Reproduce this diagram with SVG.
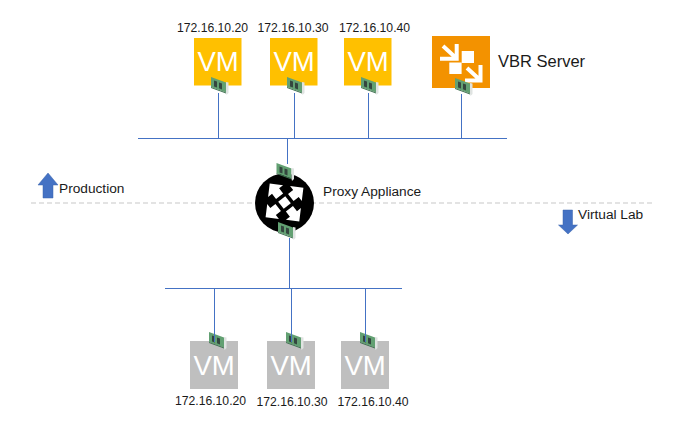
<svg xmlns="http://www.w3.org/2000/svg" width="675" height="427" viewBox="0 0 675 427">
<style>
.lbl{font-family:"Liberation Sans",Arial,sans-serif;fill:#1a1a1a}
.ip{font-size:12.2px;text-anchor:middle}
.cap{font-size:13.7px}
.vm{font-family:"Liberation Sans",Arial,sans-serif;font-size:27.500px;fill:#fff;text-anchor:middle}
.wire{stroke:#4472c4;stroke-width:1;fill:none}
.prod{fill:#ffc000}
.lab{fill:#bfbfbf}
.arrow{fill:#4472c4;stroke:#3a64ad;stroke-width:.5}
.vbr-mark{fill:none;stroke:#fff;stroke-width:4}
</style>
<defs>
<!-- network card: angled board with two chips and a metal bracket -->
<g id="nic">
<path d="M0 0L15 5.500V15.500L0 10Z" fill="#62a072"/>
<path d="M0 10L15 15.500V16.500L0 11Z" fill="#3f6f50"/>
<path d="M3 3.500L6 4.600V10.500L3 9.400ZM8 5.400L11 6.500V12.400L8 11.300Z" fill="#34463f"/>
<path d="M15 5L17.500 5.500V16L15.500 18L15 15.500Z" fill="#dfe3e1"/>
</g>
<!-- one arrow of the proxy mark, pointing up -->
<g id="glyph">
<path d="M0 -24L9.500 -14.500H4.500V-8H-4.500V-14.500H-9.500Z" fill="#fff"/>
</g>
</defs>

<!-- production / virtual lab boundary -->
<line x1="31" y1="203" x2="654" y2="203" stroke="#c8c8c8" stroke-width="1.200" stroke-dasharray="5 3"/>

<g id="vm-prod-1">
<rect class="prod" x="194" y="38" width="47.500" height="47.500"/>
<text class="vm" x="218" y="71">VM</text>
<use href="#nic" x="211" y="77"/>
<text class="lbl ip" x="212.500" y="32">172.16.10.20</text>
</g>
<g id="vm-prod-2">
<rect class="prod" x="270" y="38" width="47.500" height="47.500"/>
<text class="vm" x="294" y="71">VM</text>
<use href="#nic" x="287" y="77"/>
<text class="lbl ip" x="293" y="32">172.16.10.30</text>
</g>
<g id="vm-prod-3">
<rect class="prod" x="344" y="38" width="47.500" height="47.500"/>
<text class="vm" x="368" y="71">VM</text>
<use href="#nic" x="361" y="77"/>
<text class="lbl ip" x="374.500" y="32">172.16.10.40</text>
</g>

<g id="vbr-server">
<rect x="432" y="36" width="58" height="52" fill="#f39200"/>
<path class="vbr-mark" d="M456.700 44V58.700H440M443 46L455 57M480.500 65V80.500H465M467 68L479 79"/>
<rect x="461.700" y="51" width="12.300" height="12" fill="#fff"/>
<rect x="449.300" y="62.500" width="12.300" height="11.500" fill="#fff"/>
<use href="#nic" x="455" y="78"/>
<text class="lbl" x="498" y="67" font-size="16.500">VBR Server</text>
</g>

<g id="proxy-appliance">
<circle cx="284.500" cy="203" r="29.500" fill="#000"/>
<g transform="translate(284.500 202.500)">
<rect x="-4.500" y="-4.500" width="9" height="9" fill="#fff" transform="rotate(52)"/>
<use href="#glyph" transform="rotate(-38)"/>
<use href="#glyph" transform="rotate(52)"/>
<use href="#glyph" transform="rotate(142)"/>
<use href="#glyph" transform="rotate(232)"/>
</g>
<use href="#nic" x="276.500" y="163"/>
<use href="#nic" x="278" y="222"/>
<text class="lbl cap" x="323" y="196">Proxy Appliance</text>
</g>

<g id="production">
<path class="arrow" d="M48 173L58 185H53V198H43V185H38Z"/>
<text class="lbl cap" x="59" y="193">Production</text>
</g>
<g id="virtual-lab">
<path class="arrow" d="M563 210H572.500V225H577.500L568 234L558.500 225H563Z"/>
<text class="lbl cap" x="578" y="219">Virtual Lab</text>
</g>

<g id="vm-lab-1">
<rect class="lab" x="190" y="341" width="48" height="48"/>
<text class="vm" x="214" y="375">VM</text>
<use href="#nic" x="209" y="332"/>
<text class="lbl ip" x="210.500" y="405">172.16.10.20</text>
</g>
<g id="vm-lab-2">
<rect class="lab" x="267" y="341" width="48" height="48"/>
<text class="vm" x="291" y="375">VM</text>
<use href="#nic" x="286" y="332"/>
<text class="lbl ip" x="292" y="406">172.16.10.30</text>
</g>
<g id="vm-lab-3">
<rect class="lab" x="341" y="341" width="48" height="48"/>
<text class="vm" x="365" y="375">VM</text>
<use href="#nic" x="360" y="332"/>
<text class="lbl ip" x="373" y="406">172.16.10.40</text>
</g>

<g id="connectors" class="wire">
<path d="M138 138.500H507M218.500 93V138.500M294.500 93V138.500M368.500 93V138.500M461.500 94V138.500M287.500 138.500V164"/>
<path d="M165 288.500H402M289.500 238V288.500M214.500 288.500V342M291.500 288.500V342M365.500 288.500V342"/>
</g>
</svg>
